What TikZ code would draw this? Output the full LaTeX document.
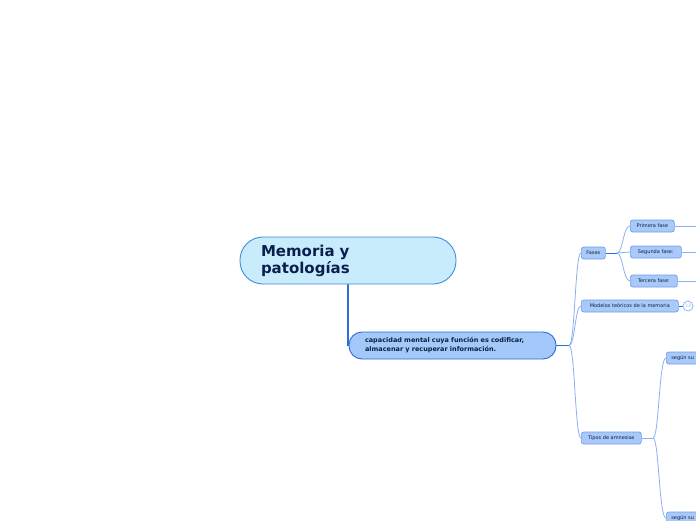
\documentclass[tikz,border=0pt]{standalone}
\usepackage{fontspec}
\setmainfont{DejaVu Sans}
\usetikzlibrary{backgrounds}
\definecolor{mainfill}{HTML}{C8ECFB}
\definecolor{mainborder}{HTML}{3C8EDB}
\definecolor{titletext}{HTML}{0B1F4F}
\definecolor{secfill}{HTML}{A4C8FA}
\definecolor{secborder}{HTML}{2A6BD9}
\definecolor{sectext}{HTML}{0A2240}
\definecolor{smallfill}{HTML}{A9C9F8}
\definecolor{smallborder}{HTML}{6E9DEE}
\definecolor{lightline}{HTML}{8AB2F2}
\definecolor{darkline}{HTML}{2F6DDB}
\tikzset{
  mainbox/.style={draw=mainborder, fill=mainfill, line width=0.9pt, rounded corners=23pt,
    minimum width=216pt, minimum height=47pt, inner xsep=21pt, inner ysep=0pt,
    text width=174pt, align=left, font=\fontsize{15}{17}\selectfont\bfseries, text=titletext},
  secbox/.style={draw=secborder, fill=secfill, line width=0.9pt, rounded corners=13pt,
    minimum width=207pt, minimum height=27pt, inner xsep=16pt, inner ysep=0pt,
    text width=175pt, align=left, font=\fontsize{6.5}{9}\selectfont\bfseries, text=sectext},
  smallbox/.style={draw=smallborder, fill=smallfill, line width=0.7pt, rounded corners=2.5pt,
    minimum height=12pt, inner xsep=0pt, inner ysep=0pt, anchor=west,
    font=\fontsize{5}{6}\selectfont, text=sectext},
  cutbox/.style={smallbox, text width=60pt, inner xsep=5pt, align=left},
  lightconn/.style={draw=lightline, line width=0.8pt},
  darkconn/.style={draw=darkline, line width=1pt},
  countcircle/.style={circle, draw=lightline, fill=white, line width=0.7pt, minimum size=10pt,
    inner sep=0pt, font=\fontsize{4.5}{5}\selectfont, text=lightline}
}
\begin{document}
\begin{tikzpicture}[x=1pt, y=-1pt]
\useasboundingbox (0,0) rectangle (696,520);
\clip (0,0) rectangle (696,520);

\node[mainbox] (main) at (348,260.5) {Memoria y\\patologías};
\node[secbox] (sec) at (452.5,345.5) {capacidad mental cuya función es codificar,\\almacenar y recuperar información.};

\node[smallbox, minimum width=24pt] (fases) at (581,253) {Fases};
\node[smallbox, minimum width=97pt] (modelos) at (581,306) {Modelos teóricos de la memoria};
\node[smallbox, minimum width=60pt] (tipos) at (581,438) {Tipos de amnesias};

\node[smallbox, minimum width=44pt] (primera) at (630,226) {Primera fase};
\node[smallbox, minimum width=51pt] (segunda) at (630,252) {Segunda fase:};
\node[smallbox, minimum width=47pt] (tercera) at (630,281) {Tercera fase:};

\node[countcircle] (cnt) at (688,306) {23};

\node[cutbox] (segun1) at (666,358) {según su};
\node[cutbox] (segun2) at (666,518) {según su};

\coordinate (e1) at (700,226);
\coordinate (e2) at (700,252);
\coordinate (e3) at (700,281);
\coordinate (j0) at (569,345.5);
\coordinate (j1) at (617,253);
\coordinate (j2) at (653,438);

\begin{scope}[on background layer]
\fill[white] (0,0) rectangle (696,520);
\draw[darkconn, line width=1.3pt] (main.south) -- (main.south |- sec.west);
\draw[darkconn] (sec.east) -- (j0);
\draw[lightconn] (j0) .. controls (575,345.5) and (575,253) .. (fases.west);
\draw[lightconn] (j0) .. controls (575,345.5) and (575,306) .. (modelos.west);
\draw[lightconn] (j0) .. controls (575,345.5) and (575,438) .. (tipos.west);
\draw[darkconn] (fases.east) -- (j1);
\draw[lightconn] (j1) .. controls (623,253) and (623,226) .. (primera.west);
\draw[lightconn] (j1) .. controls (623,253) and (623,252) .. (segunda.west);
\draw[lightconn] (j1) .. controls (623,253) and (623,281) .. (tercera.west);
\draw[lightconn] (primera.east) -- (e1);
\draw[lightconn] (segunda.east) -- (e2);
\draw[lightconn] (tercera.east) -- (e3);
\draw[darkconn] (modelos.east) -- (cnt.west);
\draw[lightconn] (tipos.east) -- (j2);
\draw[lightconn] (j2) .. controls (659,438) and (659,358) .. (segun1.west);
\draw[lightconn] (j2) .. controls (659,438) and (659,518) .. (segun2.west);
\end{scope}
\end{tikzpicture}
\end{document}
